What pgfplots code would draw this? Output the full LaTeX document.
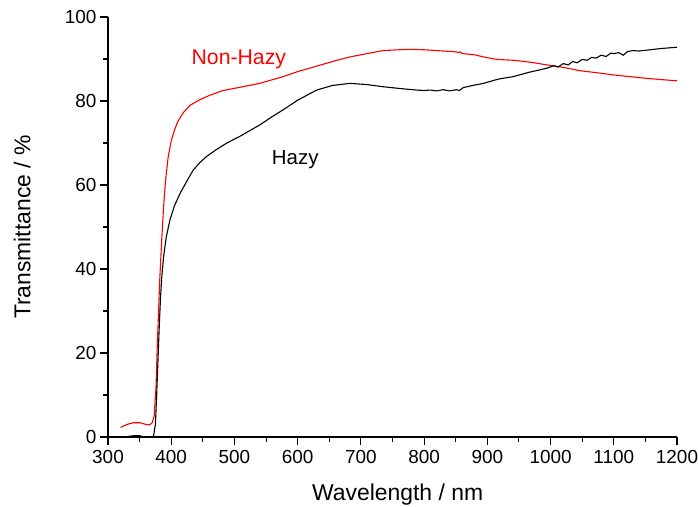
\documentclass[border=0pt]{standalone}
\usepackage{fontspec}
\setmainfont{Liberation Sans}
\usepackage{pgfplots}
\pgfplotsset{compat=1.18}
\begin{document}
\begin{tikzpicture}
\begin{axis}[
  scale only axis, width=569bp, height=420bp,
  xmin=300, xmax=1200, ymin=0, ymax=100,
  axis x line*=bottom, axis y line*=left,
  axis line style={black, line width=1.1bp, -},
  xtick={300,400,...,1200}, ytick={0,20,...,100},
  minor x tick num=1, minor y tick num=1,
  tick align=outside, major tick length=8bp, minor tick length=4.5bp,
  every tick/.style={black, line width=1.1bp},
  ticklabel style={font=\fontsize{19}{19}\selectfont},
  xticklabel style={yshift=-1.5bp},
  /pgf/number format/assume math mode=true,
  /pgf/number format/1000 sep={},
  xlabel={Wavelength / nm}, ylabel={Transmittance / \%},
  every axis x label/.style={at={(axis description cs:0.509,-0.15)}, anchor=base, font=\fontsize{23}{23}\selectfont},
  every axis y label/.style={at={(axis description cs:-0.151,0.5)}, rotate=90, anchor=center, font=\fontsize{23}{23}\selectfont},
]
\addplot[red, line width=1.1bp] coordinates {
(320,2.3) (330,3.0) (340,3.4) (350,3.4) (360,3.0) (366,2.9) (370,3.4) (373,5) (376,12) (378,22) (380,30) (382,38) (385,47) (388,55) (391,61) (395,66.5) (400,70.5) (405,73) (410,75) (419,77.2) (430,79) (445,80.3) (460,81.3) (482,82.5) (510,83.3) (540,84.2) (577,85.8) (600,87) (630,88.3) (660,89.6) (683,90.5) (710,91.3) (735,92) (760,92.2) (778,92.3) (800,92.2) (820,92) (850,91.7) (855,91.5) (857,91.7) (860,91.3) (880,91) (894,90.5) (915,89.9) (941,89.7) (970,89.2) (994,88.6) (1020,88) (1047,87.2) (1075,86.7) (1100,86.2) (1125,85.8) (1152,85.4) (1175,85.1) (1200,84.8)
};
\addplot[black, line width=1.1bp] coordinates {
(320,0) (330,0.1) (340,0.3) (350,0.3) (355,0.1) (365,0) (372,0.2) (375,3) (377,10) (379,18) (381,26) (383,33) (385,38) (388,43) (392,47.5) (398,51.7) (405,55) (414,58) (425,61) (435,63.6) (445,65.3) (456,66.8) (470,68.3) (488,70) (510,71.7) (540,74.3) (560,76.3) (577,77.9) (600,80.2) (630,82.6) (655,83.7) (683,84.2) (710,83.9) (735,83.4) (760,83) (788,82.6) (800,82.5) (810,82.6) (820,82.4) (830,82.7) (840,82.4) (851,82.7) (856,82.5) (862,83.2) (880,83.8) (894,84.2) (917,85.2) (941,85.8) (965,86.8) (994,87.8) (1005,88.4) (1012,88.1) (1020,88.9) (1028,88.6) (1035,89.4) (1042,89.1) (1050,89.9) (1058,89.7) (1065,90.4) (1072,90.2) (1080,90.9) (1088,90.6) (1095,91.4) (1100,91.3) (1108,91.5) (1115,90.9) (1122,91.8) (1131,92) (1140,91.9) (1152,92.1) (1175,92.5) (1200,92.8)
};
\node[red, anchor=base west, inner sep=0pt, font=\fontsize{21.3}{21.3}\selectfont] at (axis cs:432,88.8) {Non-Hazy};
\node[black, anchor=base west, inner sep=0pt, font=\fontsize{20.5}{20.5}\selectfont] at (axis cs:559,64.8) {Hazy};
\end{axis}
\pgfresetboundingbox
\path ([shift={(-108bp,-69bp)}]current axis.south west) rectangle ([shift={(21bp,17bp)}]current axis.north east);
\end{tikzpicture}
\end{document}
